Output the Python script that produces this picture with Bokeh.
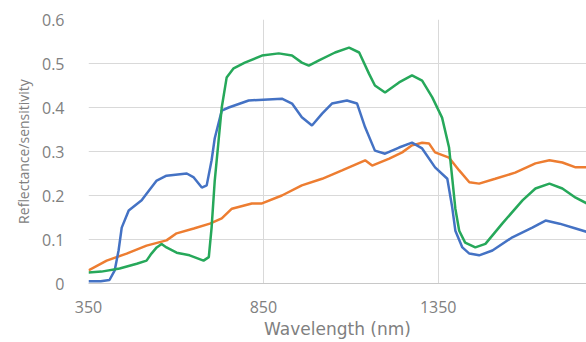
from bokeh.plotting import figure
from bokeh.models import FixedTicker, Range1d
from bokeh.embed import file_html
from bokeh.resources import INLINE

# Wavelength (nm) and reflectance/sensitivity values
blue_x = [350, 385, 410, 425, 436, 445, 465, 502, 516, 545, 573, 631, 651, 674, 688, 702, 711, 731, 751, 808, 903, 932, 960, 989, 1018, 1046, 1089, 1118, 1141, 1169, 1198, 1238, 1275, 1304, 1341, 1376, 1390, 1399, 1419, 1439, 1467, 1505, 1562, 1619, 1657, 1697, 1743, 1780]
blue_y = [0.005, 0.005, 0.008, 0.03, 0.075, 0.127, 0.166, 0.189, 0.204, 0.234, 0.245, 0.25, 0.241, 0.218, 0.223, 0.28, 0.33, 0.393, 0.40, 0.416, 0.42, 0.409, 0.378, 0.359, 0.386, 0.409, 0.416, 0.409, 0.355, 0.302, 0.295, 0.309, 0.32, 0.307, 0.264, 0.238, 0.173, 0.12, 0.082, 0.068, 0.064, 0.075, 0.105, 0.127, 0.143, 0.136, 0.125, 0.116]

green_x = [350, 387, 439, 488, 516, 530, 545, 559, 573, 602, 639, 679, 694, 702, 711, 722, 731, 745, 765, 797, 846, 894, 932, 960, 980, 1009, 1055, 1095, 1124, 1152, 1169, 1198, 1238, 1275, 1304, 1333, 1361, 1381, 1390, 1399, 1410, 1427, 1456, 1485, 1533, 1591, 1628, 1668, 1705, 1743, 1780]
green_y = [0.025, 0.027, 0.034, 0.045, 0.052, 0.068, 0.082, 0.09, 0.082, 0.07, 0.064, 0.052, 0.06, 0.127, 0.234, 0.325, 0.40, 0.468, 0.489, 0.502, 0.518, 0.523, 0.518, 0.502, 0.495, 0.507, 0.525, 0.536, 0.525, 0.477, 0.45, 0.434, 0.457, 0.473, 0.461, 0.423, 0.377, 0.309, 0.24, 0.17, 0.12, 0.093, 0.082, 0.09, 0.136, 0.189, 0.216, 0.227, 0.216, 0.195, 0.18]

orange_x = [350, 402, 459, 516, 573, 602, 651, 697, 731, 760, 817, 846, 903, 960, 1018, 1075, 1141, 1161, 1210, 1247, 1275, 1304, 1324, 1341, 1381, 1410, 1439, 1467, 1513, 1570, 1628, 1668, 1705, 1743, 1780]
orange_y = [0.03, 0.052, 0.068, 0.086, 0.098, 0.114, 0.125, 0.136, 0.148, 0.17, 0.182, 0.182, 0.2, 0.223, 0.238, 0.257, 0.28, 0.268, 0.284, 0.298, 0.314, 0.32, 0.318, 0.298, 0.286, 0.257, 0.23, 0.227, 0.238, 0.252, 0.273, 0.28, 0.275, 0.264, 0.264]

x_ticks = [350, 850, 1350, 1850]
y_ticks = [0, 0.1, 0.2, 0.3, 0.4, 0.5, 0.6]
y_tick_labels = ["0", "0.1", "0.2", "0.3", "0.4", "0.5", "0.6"]

p = figure(width=586, height=342, output_backend="svg", toolbar_location=None,
           x_range=Range1d(350, 1774), y_range=Range1d(0, 0.6),
           min_border_left=88, min_border_right=0, min_border_top=19, min_border_bottom=59)
p.outline_line_color = None
p.background_fill_color = "white"
p.border_fill_color = "white"

p.line(orange_x, orange_y, line_color="#ED7D31", line_width=2.5)
p.line(blue_x, blue_y, line_color="#4472C4", line_width=2.5)
p.line(green_x, green_y, line_color="#26A85A", line_width=2.5)

font = "Open Sans"
lab_col = "#808080"

p.xaxis.ticker = FixedTicker(ticks=x_ticks)
p.yaxis.ticker = FixedTicker(ticks=y_ticks)
p.yaxis.major_label_overrides = {t: l for t, l in zip(y_ticks, y_tick_labels)}

for ax in (p.xaxis, p.yaxis):
    ax.major_tick_line_color = None
    ax.minor_tick_line_color = None
    ax.major_label_text_font = font
    ax.major_label_text_color = lab_col
    ax.major_label_text_font_size = "16px"
    ax.axis_label_text_font = font
    ax.axis_label_text_color = lab_col
    ax.axis_label_text_font_style = "normal"

p.yaxis.axis_line_color = None
p.xaxis.axis_line_color = "#C8C8C8"
p.yaxis.major_label_standoff = 18
p.xaxis.major_label_standoff = 11
p.xaxis.axis_label = "Wavelength (nm)"
p.yaxis.axis_label = "Reflectance/sensitivity"
p.xaxis.axis_label_text_font = "DejaVu Sans"
p.xaxis.axis_label_text_font_size = "17px"
p.yaxis.axis_label_text_font_size = "14px"
p.xaxis.axis_label_standoff = 3
p.yaxis.axis_label_standoff = 6

p.xgrid.grid_line_color = "#D9D9D9"
p.ygrid.grid_line_color = "#D9D9D9"

open("out.html", "w").write(file_html(p, INLINE))
